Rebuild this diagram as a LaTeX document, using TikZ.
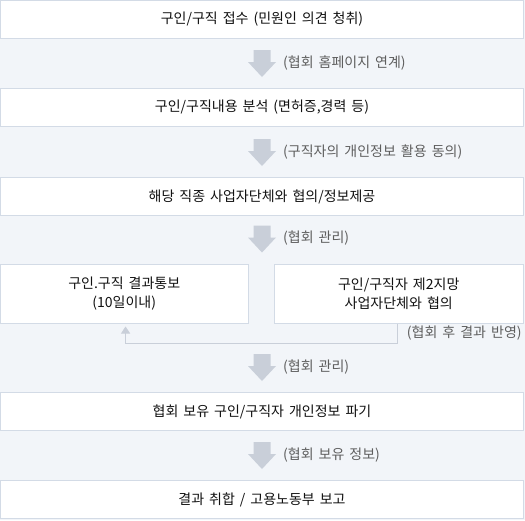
\documentclass[tikz,border=0pt]{standalone}
\usepackage{fontspec}
\setmainfont{Noto Sans CJK KR}[WordSpace=1.6]
\usetikzlibrary{arrows.meta,calc}
\definecolor{bgc}{HTML}{F2F5F9}
\definecolor{bdc}{HTML}{D3DBE6}
\definecolor{arc}{HTML}{C9CFD9}
\definecolor{txc}{HTML}{111111}
\definecolor{lbc}{HTML}{5E5E5E}
\tikzset{
  box/.style={draw=bdc, line width=1pt, fill=white, inner sep=0pt, text=txc,
    font=\fontsize{14}{19}\selectfont, align=center},
  wide/.style={box, minimum width=523pt, minimum height=38pt},
  half/.style={box, minimum height=59pt},
  lbl/.style={anchor=west, inner sep=0pt, text=lbc, font=\fontsize{14}{15}\selectfont},
  fb/.style={draw=arc, line width=1pt, -{Triangle[width=9pt,length=7pt]}},
  blockarrow/.style={fill=arc}
}
\newcommand{\blockarr}[1]{\fill[blockarrow] #1 -- ++(14,-15) -- ++(-5.5,0) -- ++(0,-12) -- ++(-17,0) -- ++(0,12) -- ++(-5.5,0) -- cycle;}
\begin{document}
\begin{tikzpicture}[x=1pt,y=-1pt]
\fill[bgc] (0,0) rectangle (525,520);
\useasboundingbox (0,0) rectangle (525,520);

\node[wide] (b1) at (262,19.5) {구인/구직 접수 (민원인 의견 청취)};
\node[wide] (b2) at (262,107.5) {구인/구직내용 분석 (면허증,경력 등)};
\node[wide] (b3) at (262,196.5) {해당 직종 사업자단체와 협의/정보제공};
\node[half, minimum width=247.5pt] (lb) at (124.25,293.5) {구인.구직 결과통보\\(10일이내)};
\node[half, minimum width=249.5pt] (rb) at (398.75,293.5) {구인/구직자 제2지망\\사업자단체와 협의};
\node[wide] (b5) at (262,411.5) {협회 보유 구인/구직자 개인정보 파기};
\node[wide] (b6) at (262,499.5) {결과 취합 / 고용노동부 보고};

% block arrows (tips 11pt above the next box)
\coordinate (t1) at ([yshift=11pt]b2.north);
\coordinate (t2) at ([yshift=11pt]b3.north);
\coordinate (t3) at ($(b3.south |- lb.north)+(0,-11)$);
\coordinate (t4) at ([yshift=11pt]b5.north);
\coordinate (t5) at ([yshift=11pt]b6.north);
\blockarr{(t1)}
\blockarr{(t2)}
\blockarr{(t3)}
\blockarr{(t4)}
\blockarr{(t5)}

\node[lbl] (l1) at ($(t1)+(21,-14)$) {(협회 홈페이지 연계)};
\node[lbl] (l2) at ($(t2)+(21,-14)$) {(구직자의 개인정보 활용 동의)};
\node[lbl] (l3) at ($(t3)+(21,-14)$) {(협회 관리)};
\node[lbl] (l4) at ($(t4)+(21,-14)$) {(협회 관리)};
\node[lbl] (l5) at ($(t5)+(21,-14)$) {(협회 보유 정보)};

% feedback connector
\draw[fb] ([xshift=-1.5pt]rb.south) -- ++(0,20) -| ([xshift=1.3pt,yshift=-3pt]lb.south);
\node[lbl] (lf) at ($(rb.south)+(8,10)$) {(협회 후 결과 반영)};
\end{tikzpicture}
\end{document}
